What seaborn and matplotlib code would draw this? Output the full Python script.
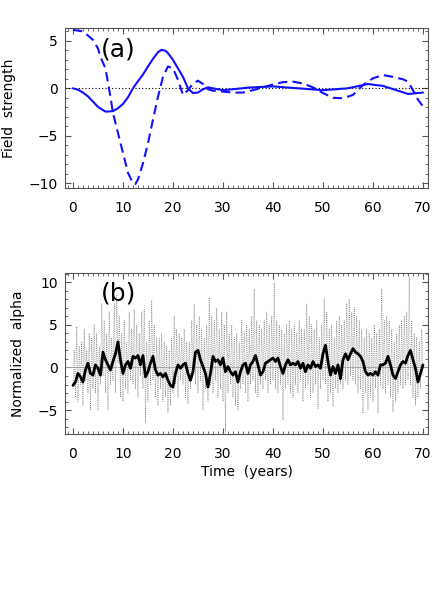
import numpy as np
import pandas as pd
import matplotlib
matplotlib.use("Agg")
import matplotlib.pyplot as plt
from matplotlib.ticker import MultipleLocator
import seaborn as sns

# ---------------- data: panel (a) ----------------
solid_years = [0, 1, 2, 3, 4, 5, 6, 6.5, 7, 8, 9, 10, 11, 12, 13, 14, 15, 16, 17, 17.7,
               18.5, 19, 20, 21, 22, 23, 24, 25, 26, 27, 28, 30, 32, 35, 40, 45, 50,
               55, 59, 62, 65, 67, 70]
solid_vals = [0.0, -0.15, -0.45, -0.85, -1.4, -1.95, -2.3, -2.45, -2.45, -2.4, -2.1, -1.65,
              -0.95, 0.0, 0.75, 1.45, 2.3, 3.1, 3.8, 4.05, 3.95, 3.7, 3.0, 2.1, 1.2, 0.0,
              -0.5, -0.45, -0.1, 0.1, 0.0, -0.2, -0.1, 0.07, 0.2, 0.0, -0.2, 0.0, 0.45,
              0.25, -0.25, -0.6, -0.45]

dash_years = [0, 2, 4, 5, 5.5, 6.5, 7.5, 8, 9, 10, 11, 12, 12.5, 13, 14, 15, 16, 17, 18,
              19, 20, 21, 22, 23, 24, 25, 26, 27, 28, 30, 32, 34, 36, 38, 40, 42, 44, 46,
              48, 50, 52, 54, 56, 58, 60, 62, 64, 66, 67, 68, 69, 70]
dash_vals = [6.15, 6.0, 5.1, 4.2, 3.3, 2.1, -0.9, -2.6, -4.7, -6.8, -8.9, -10.0, -10.07,
             -9.6, -7.9, -5.8, -3.3, -0.9, 1.2, 2.3, 2.1, 0.9, -0.7, -0.2, 0.5, 0.8, 0.45,
             -0.1, -0.25, -0.35, -0.45, -0.45, -0.2, 0.1, 0.4, 0.65, 0.7, 0.5, 0.1, -0.5,
             -1.0, -1.05, -0.7, 0.35, 1.05, 1.4, 1.2, 0.95, 0.7, -0.2, -1.2, -1.9]

# ---------------- data: panel (b) ----------------
alpha_raw = [
    -2.5, 2.0, -3.5, 4.8,  -4.0, 2.5, -2.0, 3.0,  -4.5, 4.5, -1.5, 2.0,  -3.0, 4.0, -5.0, 3.5,
    -2.5, 5.0, -3.0, 4.0,  -5.0, 2.5, -2.0, 7.5,  -1.0, 5.5, -3.0, 4.0,  -5.0, 6.5, -2.0, 3.5,
    -1.5, 7.5, -3.0, 8.5,   0.5, 6.0, -3.5, 4.0,  -4.0, 5.5, -2.5, 3.0,  -3.0, 6.5, -1.5, 4.5,
    -2.0, 6.8, -2.5, 5.0,  -3.5, 4.0, -1.0, 6.5,  -2.5, 6.8, -6.5, 3.0,  -4.0, 5.5, -2.0, 7.8,
    -1.5, 5.0, -3.5, 3.5,  -4.5, 3.5, -2.5, 4.0,  -4.0, 3.0, -3.5, 2.5,  -5.3, 2.0, -4.5, 3.5,
    -3.0, 6.0, -2.0, 4.5,  -3.5, 4.0, -1.5, 3.5,  -2.0, 4.5, -3.5, 3.0,  -4.3, 3.0, -2.5, 5.5,
    -1.0, 7.4, -2.0, 5.0,  -3.0, 6.0, -1.5, 4.5,  -5.0, 3.5, -2.5, 5.0,  -4.0, 8.2, -2.0, 6.0,
    -3.0, 5.5, -1.5, 7.0,  -3.5, 4.5, -2.5, 6.5,  -4.0, 5.0, -7.6, 6.5,  -3.0, 4.0, -2.0, 5.0,
    -3.5, 3.5, -4.5, 4.0,  -5.0, 3.0, -2.5, 5.5,  -2.0, 4.0, -3.0, 5.0,  -4.0, 4.5, -2.0, 6.0,
    -1.5, 9.2, -3.0, 5.5,  -3.5, 5.0, -2.0, 4.5,  -2.5, 5.5, -1.5, 6.5,  -3.0, 5.0, -2.0, 6.0,
    -1.5, 9.9, -2.5, 5.5,  -3.0, 5.0, -2.0, 4.5,  -6.2, 4.0, -2.5, 5.0,  -2.0, 5.5, -3.0, 4.5,
    -3.5, 5.0, -2.0, 4.0,  -3.0, 5.5, -1.5, 4.5,  -4.0, 4.5, -2.5, 7.5,  -2.0, 6.0, -3.5, 5.0,
    -3.0, 4.5, -2.0, 5.5,  -4.8, 3.5, -2.5, 5.0,  -1.5, 8.0, -2.0, 6.5,  -4.0, 4.5, -3.0, 5.0,
    -4.6, 3.5, -2.5, 5.5,  -3.0, 6.0, -2.0, 5.0,  -2.5, 5.5, -1.5, 7.5,  -2.0, 8.0, -1.0, 6.5,
    -1.5, 7.0, -2.0, 6.0,  -3.0, 5.5, -2.5, 4.5,  -5.4, 3.5, -3.0, 4.5,  -5.0, 4.0, -3.5, 3.5,
    -4.0, 5.0, -2.5, 4.0,  -5.3, 4.5, -2.0, 9.2,  -2.5, 5.5, -3.0, 6.0,  -2.0, 5.5, -3.5, 4.5,
    -5.2, 3.0, -4.0, 4.0,  -3.0, 5.0, -2.0, 5.5,  -2.5, 6.0, -2.0, 6.5,  -1.5, 10.6, -2.0, 5.5,
    -3.5, 4.0, -4.4, 3.5,  -3.5, 3.0, -2.5, 4.5,  -1.0]

alpha_smooth = [
    -2.1, -1.7, -0.7, -1.1, -1.7, -0.3, 0.5, -0.7, -0.9, 0.3, -0.1, -0.9, 1.8, 0.9, 0.3, -0.3,
    0.7, 1.6, 3.0, 0.9, -0.7, 0.3, 0.7, -0.1, 1.3, 1.1, 1.4, 0.3, 1.4, -1.1, -0.5, 0.5,
    1.3, -0.3, -0.9, -0.7, -1.1, -0.7, -1.5, -2.1, -2.3, -0.7, 0.3, -0.1, 0.3, 0.5, -0.7, -1.5,
    -0.5, 1.8, 2.0, 0.9, 0.1, -0.7, -2.3, -0.7, 1.3, 0.7, 0.9, 0.3, 1.1, -0.5, 0.1, -0.5,
    -0.9, -0.5, -1.7, -0.5, 0.3, 0.5, -0.7, 0.3, 0.7, 1.4, 0.3, -0.9, -0.5, 0.5, 0.7, 0.9,
    1.1, 0.7, 1.1, 0.1, -0.7, 0.3, 0.9, 0.3, 0.5, 0.3, 0.7, -0.1, 0.5, -0.5, 0.3, -0.1,
    0.7, 0.1, 0.3, -0.1, 1.6, 2.6, 0.7, -0.9, 0.1, -0.7, 0.3, -1.3, 0.9, 1.6, 0.9, 1.6,
    2.2, 1.8, 1.6, 1.3, 0.7, -0.5, -0.9, -0.7, -0.9, -0.5, -0.9, 0.3, 0.3, 0.5, 1.3, 0.3,
    -0.9, -1.3, -0.5, 0.3, 0.7, 0.5, 1.4, 2.0, 0.9, -0.1, -1.7, -0.7, 0.3]

raw_years = np.arange(len(alpha_raw)) * 0.25
smooth_years = np.arange(len(alpha_smooth)) * 0.5

x_ticks = [0, 10, 20, 30, 40, 50, 60, 70]

# ---------------- figure ----------------
sns.set_theme(style="ticks")
plt.rcParams["font.family"] = ["DejaVu Sans"]
plt.rcParams["axes.linewidth"] = 0.8
plt.rcParams["text.color"] = "black"
plt.rcParams["axes.labelcolor"] = "black"

fig = plt.figure(figsize=(4.36, 6.10), dpi=100)
ax1 = fig.add_axes([0.149, 0.6918, 0.8326, 0.2623])
ax2 = fig.add_axes([0.149, 0.2885, 0.8326, 0.2644])

blue = "#1010ff"
ax1.axhline(0, color="black", lw=0.8, ls=(0, (1, 2)), zorder=1)
sns.lineplot(x=solid_years, y=solid_vals, ax=ax1, color=blue, lw=1.5, sort=False)
sns.lineplot(x=dash_years, y=dash_vals, ax=ax1, color=blue, lw=1.5, sort=False,
             linestyle=(0, (4.5, 2.5)))
ax1.set_xlim(-1.6, 71.0)
ax1.set_ylim(-10.5, 6.35)
ax1.set_ylabel("Field  strength", fontsize=10, labelpad=9)
ax1.text(5.5, 4.1, "(a)", fontsize=18, ha="left", va="center", color="black")

ax2.axhline(0, color="#aaaaaa", lw=0.6, zorder=1)
sns.lineplot(x=raw_years, y=alpha_raw, ax=ax2, color="#808080", lw=0.55,
             linestyle=(0, (1, 1.5)), sort=False)
sns.lineplot(x=smooth_years, y=alpha_smooth, ax=ax2, color="black", lw=2.0, sort=False)
ax2.set_xlim(-1.6, 71.0)
ax2.set_ylim(-7.8, 11.1)
ax2.set_ylabel("Normalized  alpha", fontsize=10, labelpad=9)
ax2.set_xlabel("Time  (years)", fontsize=10, labelpad=3)
ax2.text(5.5, 8.7, "(b)", fontsize=18, ha="left", va="center", color="black")

for ax in (ax1, ax2):
    ax.set_xticks(x_ticks)
    ax.xaxis.set_minor_locator(MultipleLocator(1))
    ax.yaxis.set_major_locator(MultipleLocator(5))
    ax.yaxis.set_minor_locator(MultipleLocator(1))
    ax.tick_params(which="both", direction="in", top=True, right=True,
                   labelsize=10, colors="#555555", labelcolor="black")
    ax.tick_params(axis="x", which="major", length=4, width=0.8, pad=9)
    ax.tick_params(axis="y", which="major", length=4, width=0.8, pad=5)
    ax.tick_params(which="minor", length=2, width=0.6)
    for s in ax.spines.values():
        s.set_color("#555555")
        s.set_visible(True)

fig.savefig("out.png", dpi=100)
